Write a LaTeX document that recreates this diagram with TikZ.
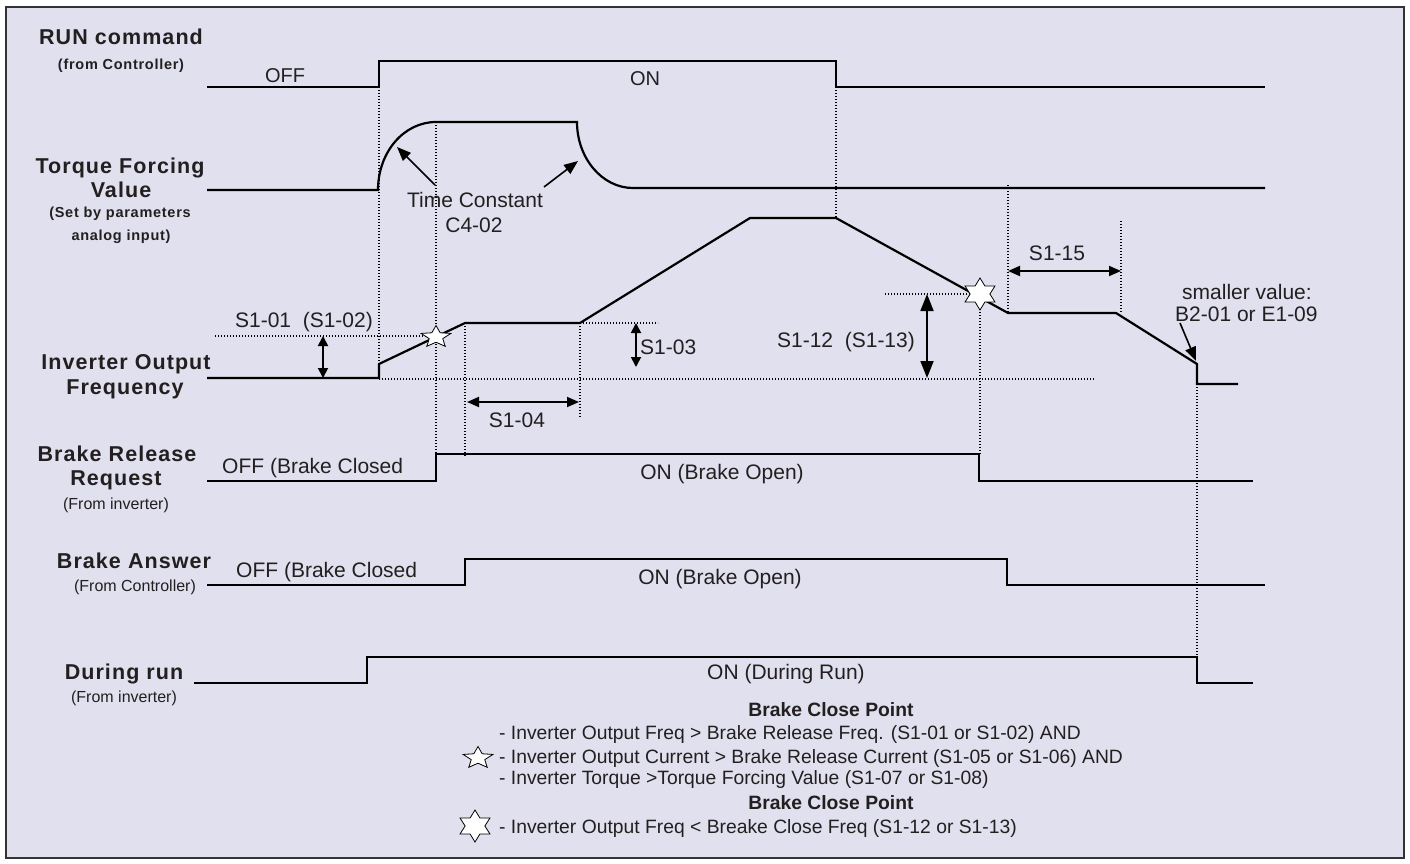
\documentclass[tikz,border=0pt]{standalone}
\usepackage{fontspec}
\setmainfont{Liberation Sans}
\newfontfamily\lblfont[LetterSpace=5]{Liberation Sans}
\usetikzlibrary{arrows.meta,shapes.geometric}
\definecolor{bgc}{RGB}{224,224,238}
\definecolor{ink}{RGB}{35,31,32}
\newcommand\myfs[1]{\fontsize{#1}{#1}\selectfont}
\begin{document}
\begin{tikzpicture}[x=1pt,y=-1pt,
  every node/.style={inner sep=0pt, text=ink},
  sig/.style={draw=black, line width=2.2pt},
  guide/.style={draw=black, line width=1.3pt, dash pattern=on 1.4pt off 1.6pt},
  dimA/.style={line width=1.8pt, {Triangle[length=10pt,width=10pt]}-{Triangle[length=10pt,width=10pt]}},
  dimB/.style={line width=1.8pt, {Triangle[length=12pt,width=10pt]}-{Triangle[length=12pt,width=10pt]}},
  dimC/.style={line width=1.8pt, {Triangle[length=17pt,width=13pt]}-{Triangle[length=17pt,width=13pt]}},
  ptr/.style={line width=1.6pt, -{Triangle[length=14pt,width=11pt]}},
  lblA/.style={font=\lblfont\bfseries\myfs{21.5}, text height=15.4pt, text depth=0pt},
  lblB/.style={font=\lblfont\bfseries\myfs{14.5}, text height=10.4pt, text depth=0pt},
  lblC/.style={font=\myfs{16}, text height=11.5pt, text depth=0pt},
  sigtxt/.style={font=\myfs{21}, text height=15pt, text depth=0pt},
  legtxt/.style={font=\myfs{19.3}, text height=13.8pt, text depth=0pt, anchor=west},
  legbold/.style={font=\bfseries\myfs{19.3}, text height=13.8pt, text depth=0pt},
  starV/.style={star, star points=5, star point ratio=2.2, minimum size=23pt, draw=black, fill=white, line width=0.8pt, xscale=1.36, transform shape},
  starVI/.style={star, star points=6, star point ratio=1.75, minimum size=32pt, draw=black, fill=white, line width=0.8pt, xscale=1.08, transform shape},
]
\fill[white] (0,0) rectangle (1410,864);
\filldraw[fill=bgc, draw=black!80, line width=2.5pt] (6,7) rectangle (1404,858);
\useasboundingbox (0,0) rectangle (1410,864);

% guides
\draw[guide] (379,87) -- (379,364);
\draw[guide] (436,122) -- (436,454);
\draw[guide] (465,323) -- (465,457);
\draw[guide] (580,323) -- (580,418);
\draw[guide] (836,87) -- (836,218);
\draw[guide] (980,294) -- (980,454);
\draw[guide] (1008,185) -- (1008,313);
\draw[guide] (1121,221) -- (1121,313);
\draw[guide] (1197,384) -- (1197,657);
\draw[guide] (379,379) -- (1095,379);
\draw[guide] (215,336) -- (430,336);
\draw[guide] (580,323) -- (658,323);
\draw[guide] (885,294) -- (975,294);

% signals
\draw[sig] (207,87) -- (379,87) -- (379,61) -- (836,61) -- (836,87) -- (1265,87);
\draw[sig] (207,190) -- (378,190) .. controls (378,152) and (404,122) .. (436,122) -- (577,122) .. controls (577,158) and (602,188) .. (633,188) -- (1265,188);
\draw[sig] (207,378) -- (379,378) -- (379,364) -- (465,323) -- (580,323) -- (750,218) -- (836,218) -- (1008,313) -- (1116,313) -- (1197,364) -- (1197,384) -- (1238,384);
\draw[sig] (207,481) -- (436,481) -- (436,454) -- (979,454) -- (979,481) -- (1253,481);
\draw[sig] (207,585) -- (465,585) -- (465,559) -- (1007,559) -- (1007,585) -- (1265,585);
\draw[sig] (194,683) -- (367,683) -- (367,657) -- (1197,657) -- (1197,683) -- (1253,683);

% dimension arrows
\draw[dimA] (323,336) -- (323,378);
\draw[dimA] (636,323) -- (636,367);
\draw[dimB] (467,402) -- (579,402);
\draw[dimB] (1008,271) -- (1121,271);
\draw[dimC] (927,294) -- (927,378);
\draw[ptr] (435,185) -- (397,147);
\draw[ptr] (544,187) -- (578,161);
\draw[ptr] (1180,323) -- (1196,361);

% stars
\begin{scope}[shift={(436,337)}]\node (st1) [starV] at (0,0) {};\end{scope}
\begin{scope}[shift={(980,294)}]\node (st2) [starVI] at (0,0) {};\end{scope}
\begin{scope}[shift={(478,758)}]\node (lst1) [starV] at (0,0) {};\end{scope}
\begin{scope}[shift={(475,826)}]\node (lst2) [starVI] at (0,0) {};\end{scope}

% left labels
\node (l1) [lblA] at (121,37) {RUN command};
\node (l1b) [lblB] at (121,64) {(from Controller)};
\node (l2) [lblA] at (120,166) {Torque Forcing};
\node (l2b) [lblA] at (121,190) {Value};
\node (l2c) [lblB] at (120,212) {(Set by parameters};
\node (l2d) [lblB] at (121,235) {analog input)};
\node (l3) [lblA] at (126,362) {Inverter Output};
\node (l3b) [lblA] at (125,387) {Frequency};
\node (l4) [lblA] at (117,454) {Brake Release};
\node (l4b) [lblA] at (116,478) {Request};
\node (l4c) [lblC] at (116,504) {(From inverter)};
\node (l5) [lblA] at (134,561) {Brake Answer};
\node (l5b) [lblC] at (135,586) {(From Controller)};
\node (l6) [lblA] at (124,672) {During run};
\node (l6b) [lblC] at (124,697) {(From inverter)};

% signal texts
\node (t1) [sigtxt, font=\myfs{20}] at (285,75) {OFF};
\node (t2) [sigtxt, font=\myfs{20}] at (645,78) {ON};
\node (t3) [sigtxt, anchor=west] at (222,466) {OFF (Brake Closed};
\node (t4) [sigtxt] at (722,472) {ON (Brake Open)};
\node (t5) [sigtxt, anchor=west] at (236,570) {OFF (Brake Closed};
\node (t6) [sigtxt] at (720,577) {ON (Brake Open)};
\node (t7) [sigtxt] at (786,672) {ON (During Run)};
\node (t8) [sigtxt] at (475,200) {Time Constant};
\node (t9) [sigtxt] at (474,225) {C4-02};
\node (t10) [sigtxt] at (304,320) {S1-01\ \ (S1-02)};
\node (t11) [sigtxt, anchor=west] at (640,347) {S1-03};
\node (t12) [sigtxt] at (517,420) {S1-04};
\node (t13) [sigtxt] at (846,340) {S1-12\ \ (S1-13)};
\node (t14) [sigtxt] at (1057,253) {S1-15};
\node (t15) [sigtxt, anchor=west] at (1182,292) {smaller value:};
\node (t16) [sigtxt, anchor=west] at (1175,314) {B2-01 or E1-09};

% legend
\node (g1) [legbold] at (831,710) {Brake Close Point};
\node (g2) [legtxt] at (499,733) {- Inverter Output Freq > Brake Release Freq. (S1-01 or S1-02) AND};
\node (g3) [legtxt] at (499,757) {- Inverter Output Current > Brake Release Current (S1-05 or S1-06) AND};
\node (g4) [legtxt] at (499,778) {- Inverter Torque >Torque Forcing Value (S1-07 or S1-08)};
\node (g5) [legbold] at (831,803) {Brake Close Point};
\node (g6) [legtxt] at (499,827) {- Inverter Output Freq < Breake Close Freq (S1-12 or S1-13)};
\end{tikzpicture}
\end{document}
